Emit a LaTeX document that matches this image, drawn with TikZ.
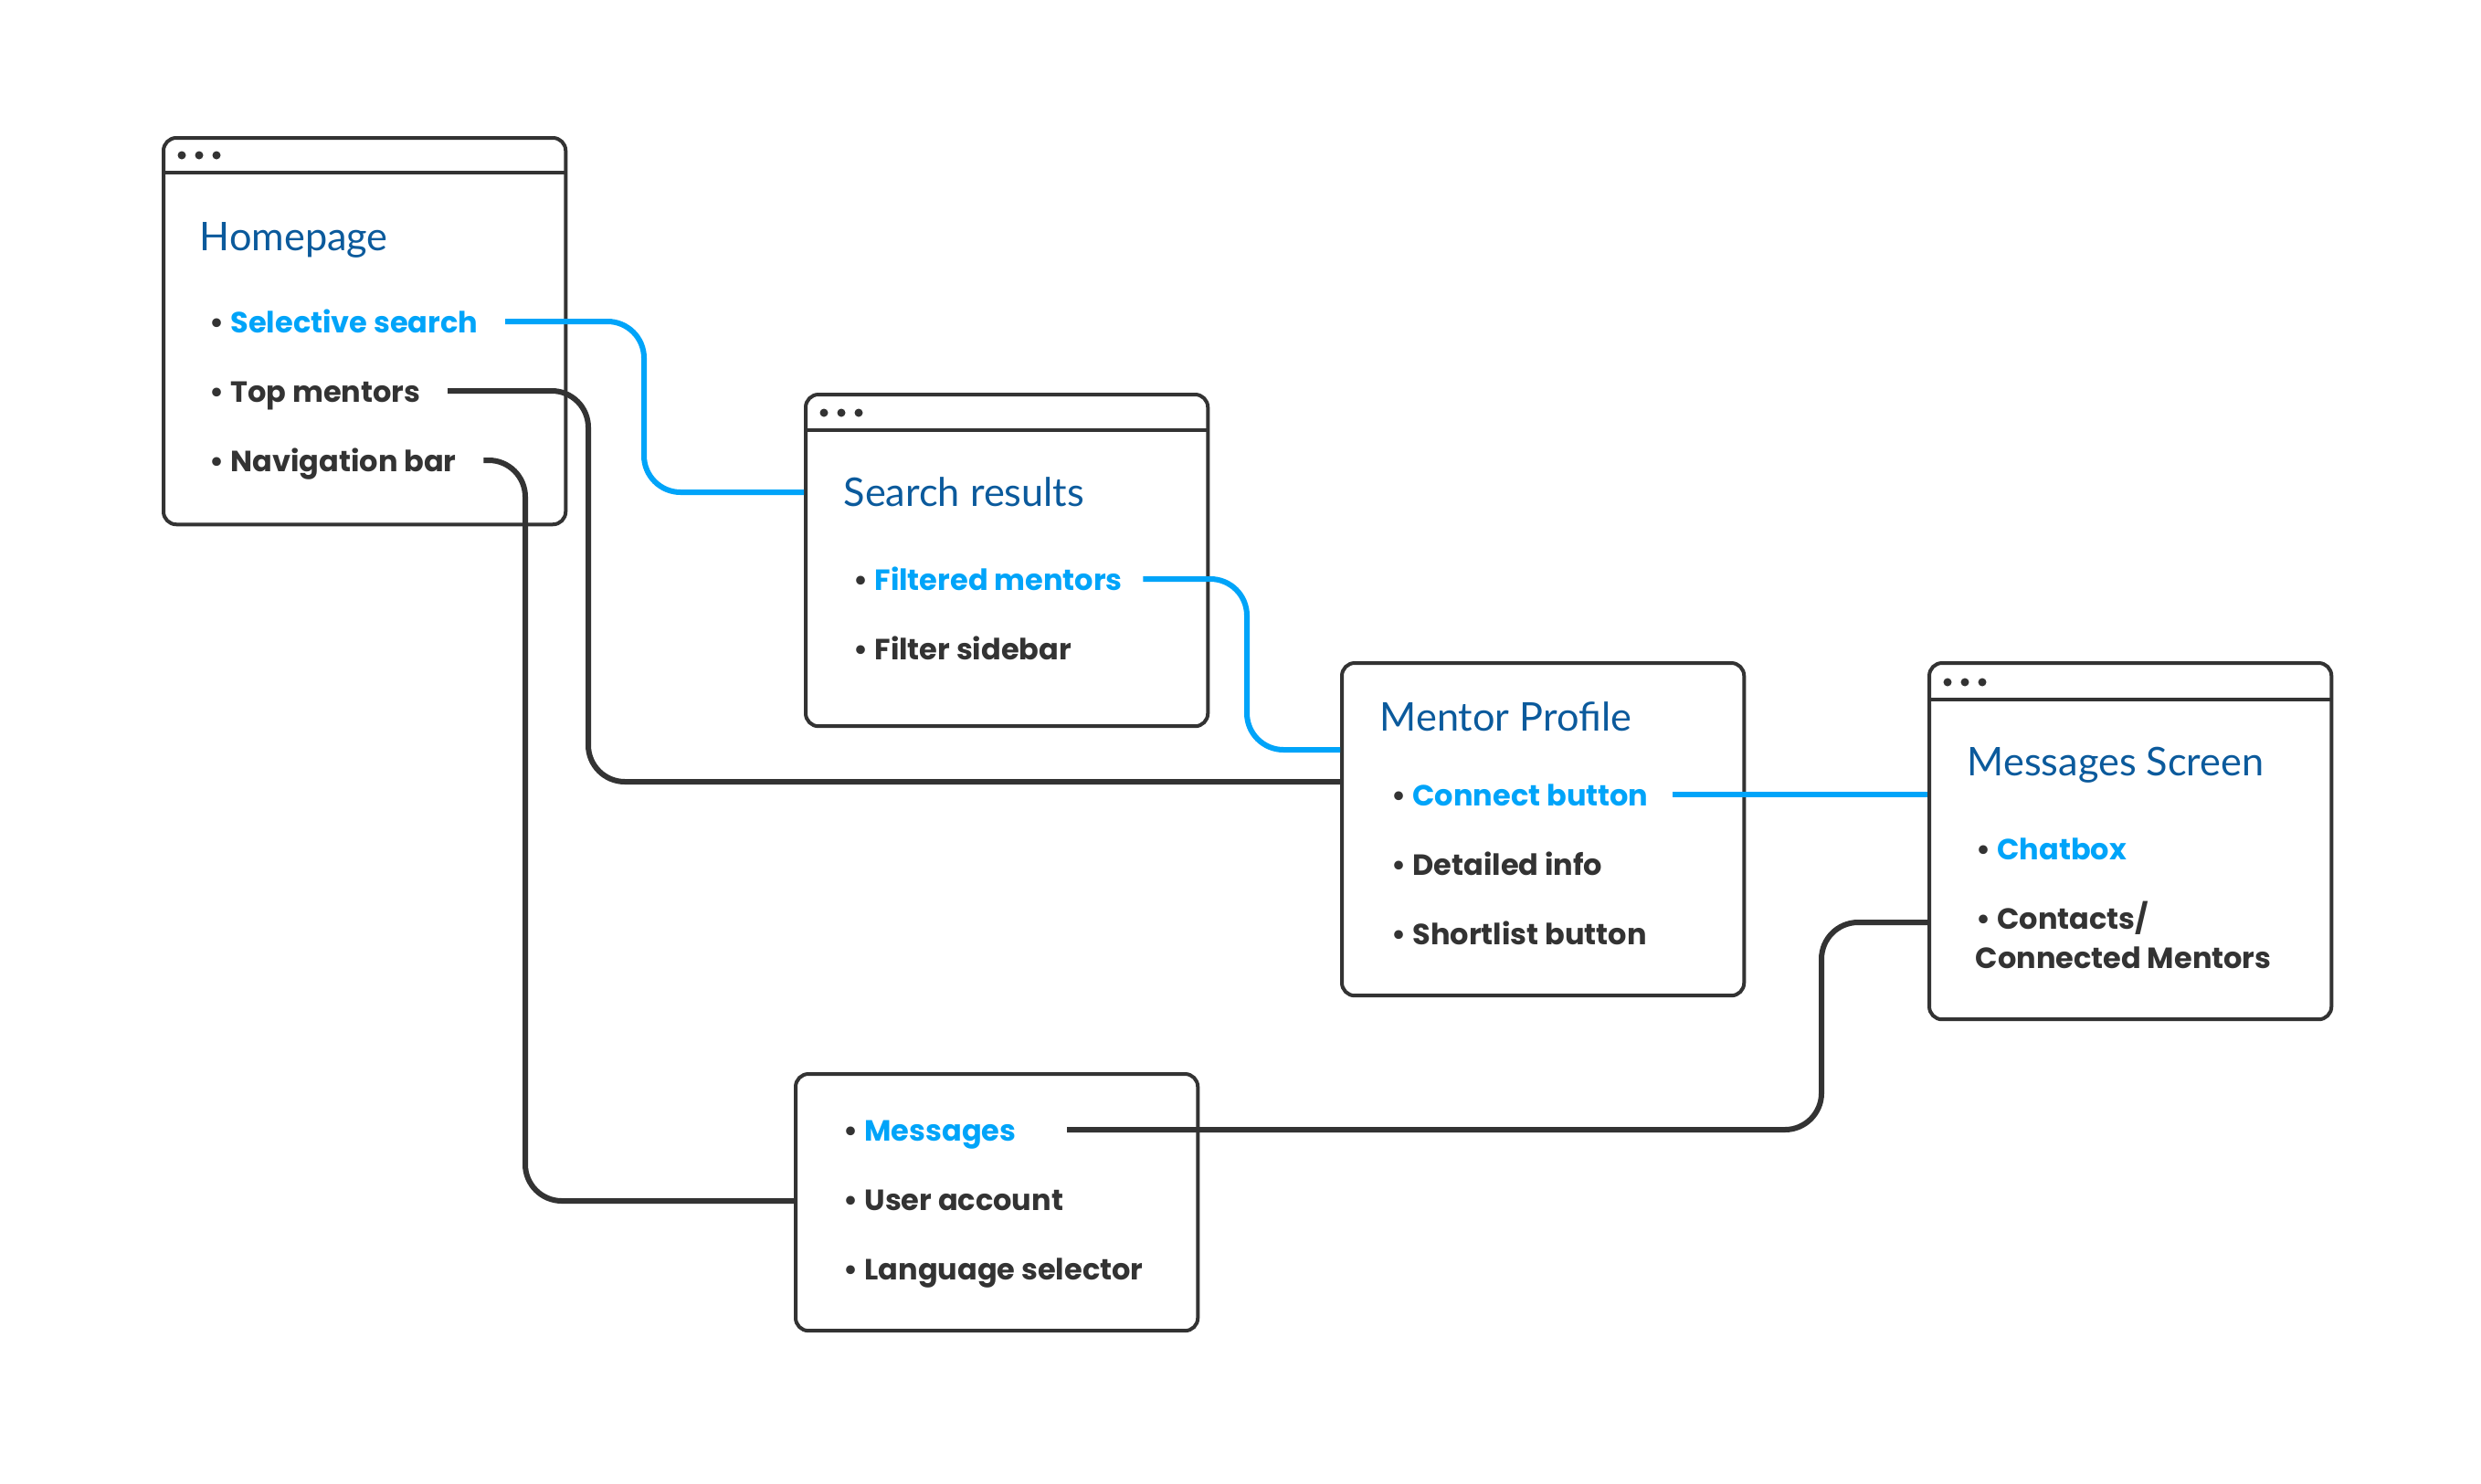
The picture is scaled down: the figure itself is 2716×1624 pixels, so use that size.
\documentclass[tikz,border=0pt]{standalone}
\usepackage{fontspec}
\setmainfont{Lato}
\newfontfamily\itemfont{Poppins}
\usetikzlibrary{calc}
\definecolor{ink}{HTML}{333333}
\definecolor{cyanb}{HTML}{00A4F9}
\definecolor{titleblue}{HTML}{0B5A9C}
\tikzset{
  winbox/.style={draw=ink, line width=0.04cm, rounded corners=0.14cm, minimum width=4.4cm, anchor=north west, inner sep=0pt, fill=white},
  bar/.style={draw=ink, line width=0.04cm},
  dot/.style={fill=ink},
  ttl/.style={font=\fontsize{12.3}{14}\selectfont, text=titleblue, inner sep=0pt, anchor=base west},
  itm/.style={font=\itemfont\bfseries\fontsize{9.1}{12.2}\selectfont, text=ink, inner sep=0pt, anchor=base west},
  bluec/.style={draw=cyanb, line width=0.06cm, rounded corners=0.4cm},
  darkc/.style={draw=ink, line width=0.06cm, rounded corners=0.4cm},
}
\newcommand{\hi}[1]{\textcolor{cyanb}{#1}}
\begin{document}
\begin{tikzpicture}[x=0.01cm,y=-0.01cm]
\useasboundingbox[fill=white] (0,0) rectangle (2716,1624);

% boxes
\node[winbox, minimum height=4.23cm] (home) at (177,149) {};
\node[winbox, minimum height=3.63cm] (sr) at (880,430) {};
\node[winbox, minimum height=3.64cm] (mp) at (1467,724) {};
\node[winbox, minimum height=3.90cm] (ms) at (2110,724) {};
\node[winbox, minimum height=2.81cm] (bb) at (869,1174) {};

% title bars and dots
\draw[bar] (home.west |- 0,189) -- (home.east |- 0,189);
\foreach \x in {199,218,237} \fill[dot] (\x,170) circle (0.045cm);
\draw[bar] (sr.west |- 0,471) -- (sr.east |- 0,471);
\foreach \x in {902,921,940} \fill[dot] (\x,452) circle (0.045cm);
\draw[bar] (ms.west |- 0,766) -- (ms.east |- 0,766);
\foreach \x in {2132,2151,2170} \fill[dot] (\x,747) circle (0.045cm);

% titles
\node[ttl] (homeT) at (218,274) {Homepage};
\node[ttl] (srT) at (923,554) {Search results};
\node[ttl] (mpT) at (1510,800) {Mentor Profile};
\node[ttl] (msT) at (2153,849) {Messages Screen};

% items
\node[itm] (sel) at (229,364) {• \hi{Selective search}};
\node[itm] (top) at (229,440) {• Top mentors};
\node[itm] (nav) at (229,516) {• Navigation bar};
\node[itm] (fil) at (934,646) {• \hi{Filtered mentors}};
\node[itm] (fsb) at (934,722) {• Filter sidebar};
\node[itm] (con) at (1523,882) {• \hi{Connect button}};
\node[itm] (det) at (1523,958) {• Detailed info};
\node[itm] (sho) at (1523,1034) {• Shortlist button};
\node[itm] (chat) at (2163,941) {• \hi{Chatbox}};
\node[itm] (cont) at (2163,1017) {• Contacts/};
\node[itm] (cont2) at (2162,1060) {Connected Mentors};
\node[itm] (msg) at (923,1249) {• \hi{Messages}};
\node[itm] (usr) at (923,1325) {• User account};
\node[itm] (lang) at (923,1401) {• Language selector};

% connector ends
\coordinate (s1) at ($(sel.base east)+(29,-12)$);
\coordinate (s2) at ($(top.base east)+(29,-12)$);
\coordinate (s3) at ($(nav.base east)+(29,-12)$);
\coordinate (s4) at ($(fil.base east)+(22,-12)$);
\coordinate (s5) at ($(con.base east)+(26,-12)$);
\coordinate (s6) at ($(msg.base east)+(55,-12)$);
\coordinate (srIn) at ($(sr.north west)+(0,109)$);
\coordinate (mpIn1) at ($(mp.north west)+(0,132)$);
\coordinate (mpIn2) at ($(mp.north west)+(0,97)$);
\coordinate (bbIn) at ($(bb.north west)+(0,141)$);
\coordinate (msIn) at ($(ms.north west)+(0,286)$);

% connectors
\draw[bluec] (s1) -| (705,539) -- (srIn);
\draw[darkc] (s2) -| (644,856) -- (mpIn1);
\draw[darkc] (s3) -| (575,1315) -- (bbIn);
\draw[bluec] (s4) -| (1365,821) -- (mpIn2);
\draw[bluec] (s5) -- (s5 -| ms.west);
\draw[darkc] (s6) -| (1994,1010) -- (msIn);
\end{tikzpicture}
\end{document}
